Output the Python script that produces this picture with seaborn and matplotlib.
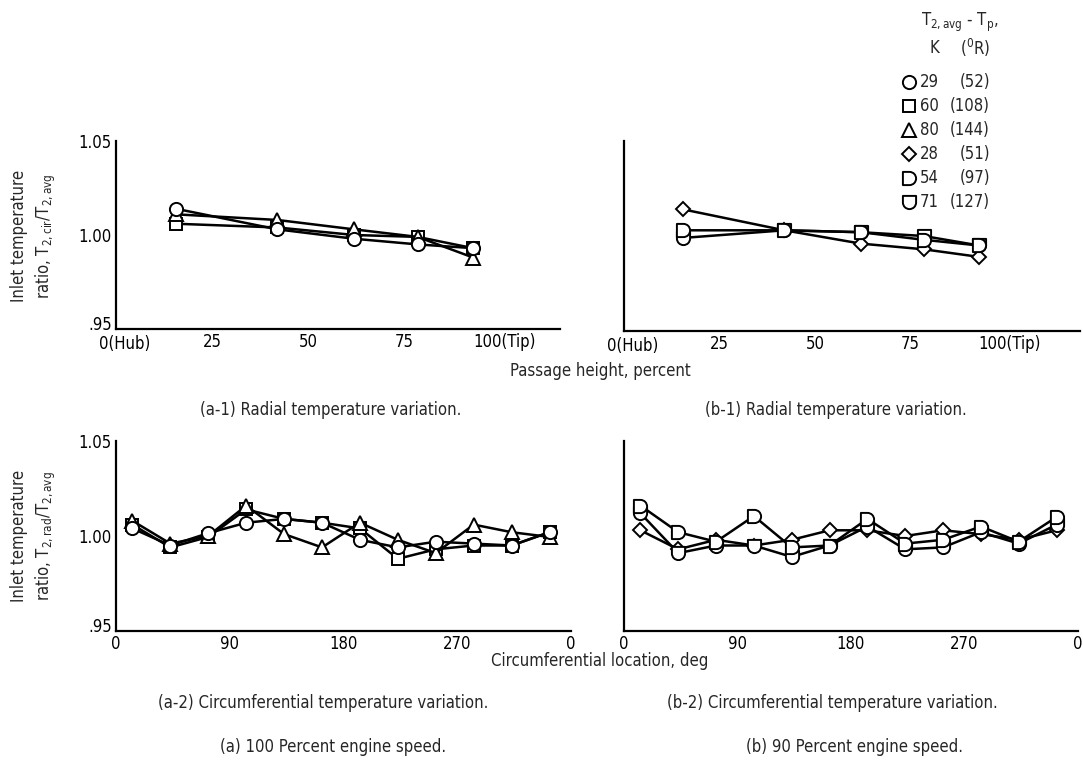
import matplotlib
matplotlib.use("Agg")
import matplotlib.pyplot as plt
import seaborn as sns
import numpy as np
import pandas as pd
from matplotlib.path import Path
from matplotlib import font_manager
from matplotlib.transforms import ScaledTranslation

# ---------------- data ----------------
radial_pos = [15.5, 42, 62, 78.5, 93]
angles = [13, 43, 73, 103, 133, 163, 193, 223, 253, 283, 313, 343]

# (a) 100 percent speed
a1_circle = [1.014, 1.003, 0.998, 0.995, 0.993]
a1_square = [1.006, 1.004, 1.000, 0.999, 0.993]
a1_triangle = [1.011, 1.008, 1.003, 0.999, 0.988]

a2_circle = [1.004, 0.995, 1.0015, 1.007, 1.009, 1.007, 0.998, 0.994, 0.997, 0.996, 0.995, 1.002]
a2_square = [1.006, 0.994, 0.9995, 1.014, 1.009, 1.007, 1.004, 0.988, 0.993, 0.995, 0.995, 1.002]
a2_triangle = [1.008, 0.996, 1.000, 1.016, 1.001, 0.994, 1.007, 0.998, 0.991, 1.006, 1.002, 0.9995]

# (b) 90 percent speed
b1_diamond = [1.014, 1.003, 0.996, 0.993, 0.989]
b1_dshape = [1.003, 1.003, 1.002, 0.998, 0.995]
b1_ushape = [0.999, 1.003, 1.002, 1.000, 0.995]

b2_diamond = [1.003, 0.993, 0.998, 0.995, 0.998, 1.003, 1.003, 1.000, 1.003, 1.001, 0.998, 1.003]
b2_dshape = [1.016, 1.002, 0.997, 1.0105, 0.994, 0.995, 1.009, 0.996, 0.998, 1.005, 0.997, 1.010]
b2_ushape = [1.012, 0.991, 0.995, 0.995, 0.989, 0.995, 1.005, 0.993, 0.994, 1.002, 0.996, 1.006]

legend_k = ["29", "60", "80", "28", "54", "71"]
legend_r = ["(52)", "(108)", "(144)", "(51)", "(97)", "(127)"]

radial_ticks = [0, 25, 50, 75, 100]
radial_labels = ["0(Hub)", "25", "50", "75", "100(Tip)"]
circ_ticks = [0, 90, 180, 270, 360]
circ_labels = ["0", "90", "180", "270", "0"]
y_ticks = [0.95, 1.00, 1.05]
y_labels = [".95", "1.00", "1.05"]

# ---------------- style ----------------
sns.set_style("white")
names = {f.name for f in font_manager.fontManager.ttflist}
if "Liberation Sans Narrow" in names:
    FONT = "Liberation Sans Narrow"
else:
    FONT = "DejaVu Sans"
    plt.rcParams["font.stretch"] = "condensed"
plt.rcParams["font.family"] = [FONT, "DejaVu Sans"]
plt.rcParams["mathtext.fontset"] = "custom"
plt.rcParams["mathtext.rm"] = FONT
plt.rcParams["mathtext.it"] = FONT

FS = 12


def d_marker():
    arc = Path.arc(-90, 90)
    verts = [(-1, -1)] + list(arc.vertices) + [(-1, 1), (-1, -1)]
    codes = [Path.MOVETO, Path.LINETO] + list(arc.codes[1:]) + [Path.LINETO, Path.CLOSEPOLY]
    return Path(verts, codes)


def u_marker():
    arc = Path.arc(180, 360)
    verts = [(1, 1), (-1, 1)] + list(arc.vertices) + [(1, 1)]
    codes = [Path.MOVETO, Path.LINETO, Path.LINETO] + list(arc.codes[1:]) + [Path.CLOSEPOLY]
    return Path(verts, codes)


MK = {
    "circle": ("o", 9.5),
    "square": ("s", 9.0),
    "triangle": ("^", 10.0),
    "diamond": ("D", 6.8),
    "dshape": (d_marker(), 9.5),
    "ushape": (u_marker(), 9.5),
}

W, H = 1083, 766
fig = plt.figure(figsize=(W / 100, H / 100), dpi=100)


def ax_px(l, r, t, b):
    return fig.add_axes([l / W, 1 - b / H, (r - l) / W, (b - t) / H])


def draw(ax, x, y, kind):
    m, ms = MK[kind]
    sns.lineplot(x=x, y=y, ax=ax, color="black", linewidth=1.8, marker=m,
                 markersize=ms, markerfacecolor="white", markeredgecolor="black",
                 markeredgewidth=1.4, sort=False, estimator=None, legend=False)


def shift(label, dx_px, dy_px):
    label.set_transform(label.get_transform() +
                        ScaledTranslation(dx_px / 100, dy_px / 100, fig.dpi_scale_trans))


def style(ax, xlim, xticks, xlabels, ylabels=True, radial=False):
    ax.set_xlim(*xlim)
    ax.set_ylim(0.95, 1.05)
    sns.despine(ax=ax)
    for s in ("left", "bottom"):
        ax.spines[s].set_linewidth(1.6)
        ax.spines[s].set_color("black")
    ax.set_xticks(xticks)
    ax.set_xticklabels(xlabels, fontsize=FS)
    ax.set_yticks(y_ticks)
    if ylabels:
        ax.set_yticklabels(y_labels, fontsize=FS)
    else:
        ax.set_yticklabels([])
    ax.tick_params(axis="x", direction="in", length=12, width=1.5, pad=3, colors="black")
    ax.tick_params(axis="y", direction="in", length=8.5, width=1.5, pad=3, colors="black")
    if ylabels:
        shift(ax.get_yticklabels()[0], 0, 6)
    if radial:
        xl = ax.get_xticklabels()
        shift(xl[0], 9, -2)
        shift(xl[-1], 4, 0)
    ax.set_xlabel("")
    ax.set_ylabel("")
    ax.patch.set_alpha(0)


ax_a1 = ax_px(116, 560, 141, 329)
ax_b1 = ax_px(624, 1080, 141, 331)
ax_a2 = ax_px(116, 571, 441, 631)
ax_b2 = ax_px(624, 1078, 441, 631)

draw(ax_a1, radial_pos, a1_square, "square")
draw(ax_a1, radial_pos, a1_triangle, "triangle")
draw(ax_a1, radial_pos, a1_circle, "circle")

draw(ax_b1, radial_pos, b1_diamond, "diamond")
draw(ax_b1, radial_pos, b1_ushape, "ushape")
draw(ax_b1, radial_pos, b1_dshape, "dshape")

draw(ax_a2, angles, a2_square, "square")
draw(ax_a2, angles, a2_triangle, "triangle")
draw(ax_a2, angles, a2_circle, "circle")

draw(ax_b2, angles, b2_diamond, "diamond")
draw(ax_b2, angles, b2_ushape, "ushape")
draw(ax_b2, angles, b2_dshape, "dshape")

style(ax_a1, (0, 115.6), radial_ticks, radial_labels, radial=True)
style(ax_b1, (0, 119.4), radial_ticks, radial_labels, ylabels=False, radial=True)
style(ax_a2, (0, 360), circ_ticks, circ_labels)
style(ax_b2, (0, 360), circ_ticks, circ_labels, ylabels=False)

# ---------------- texts ----------------
def ftext(x, y, s, **kw):
    kw.setdefault("fontsize", FS)
    fig.text(x / W, 1 - y / H, s, **kw)

ftext(34, 236, "Inlet temperature\nratio, T$_{2,cir}$/T$_{2,avg}$", rotation=90,
      ha="center", va="center", multialignment="center", linespacing=1.35)
ftext(34, 536, "Inlet temperature\nratio, T$_{2,rad}$/T$_{2,avg}$", rotation=90,
      ha="center", va="center", multialignment="center", linespacing=1.35)

ftext(600, 371, "Passage height, percent", ha="center", va="center")
ftext(600, 661, "Circumferential location, deg", ha="center", va="center")
ftext(200, 410, "(a-1) Radial temperature variation.", ha="left", va="center")
ftext(705, 410, "(b-1) Radial temperature variation.", ha="left", va="center")
ftext(158, 703, "(a-2) Circumferential temperature variation.", ha="left", va="center")
ftext(667, 703, "(b-2) Circumferential temperature variation.", ha="left", va="center")
ftext(220, 747, "(a) 100 Percent engine speed.", ha="left", va="center")
ftext(746, 747, "(b) 90 Percent engine speed.", ha="left", va="center")

# ---------------- legend ----------------
lax = fig.add_axes([0, 0, 1, 1])
lax.set_xlim(0, W)
lax.set_ylim(H, 0)
lax.axis("off")
lax.patch.set_alpha(0)

ftext(960, 22, "T$_{2,avg}$ - T$_{p}$,", ha="center", va="center")
ftext(934, 48, "K", ha="center", va="center")
ftext(975, 48, "($^{0}$R)", ha="center", va="center")

kinds = ["circle", "square", "triangle", "diamond", "dshape", "ushape"]
rows = [82, 106, 130, 154, 178, 202]
for kind, k, r, yy in zip(kinds, legend_k, legend_r, rows):
    m, ms = MK[kind]
    lax.plot([909], [yy], linestyle="none", marker=m, markersize=ms,
             markerfacecolor="white", markeredgecolor="black", markeredgewidth=1.4)
    lax.text(920, yy, k, ha="left", va="center", fontsize=FS)
    lax.text(990, yy, r, ha="right", va="center", fontsize=FS)

fig.savefig("out.png", dpi=100, facecolor="white")
